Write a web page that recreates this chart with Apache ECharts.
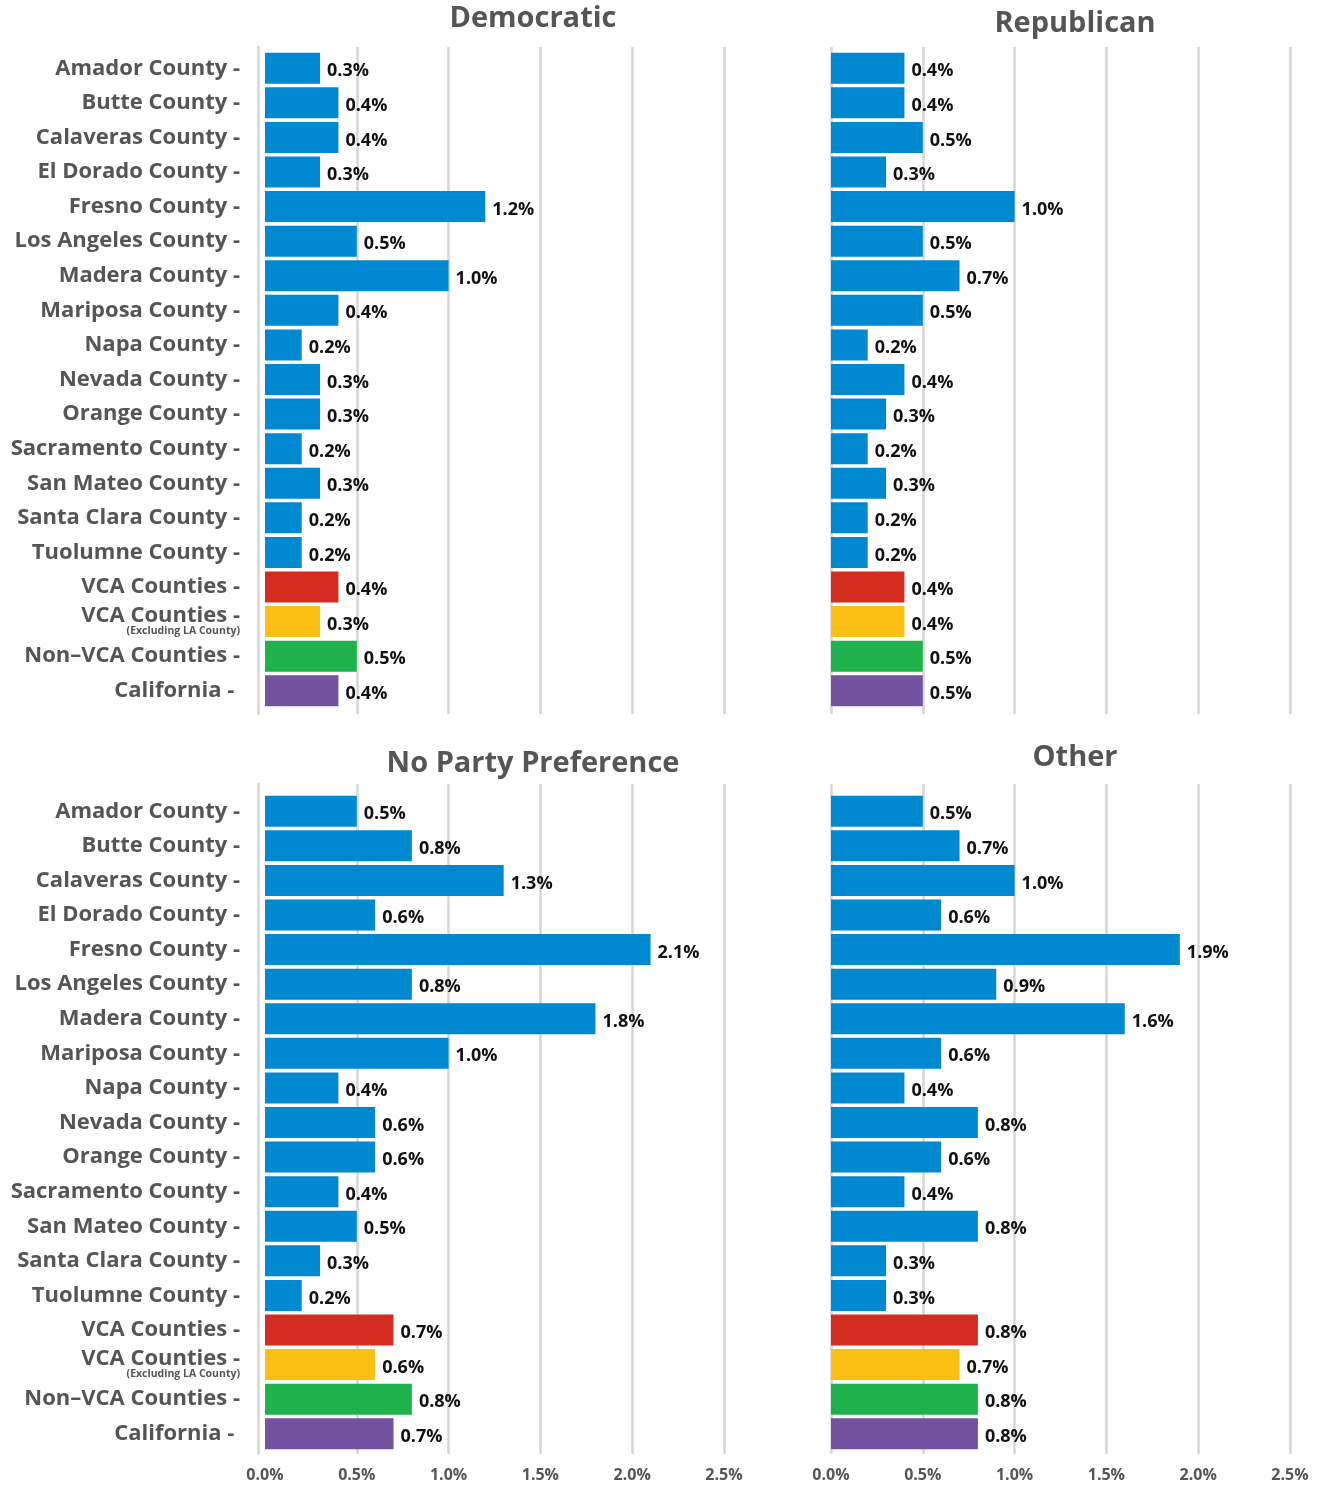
<!DOCTYPE html>
<html>
<head>
<meta charset="utf-8">
<script src="https://cdn.jsdelivr.net/npm/echarts@6/dist/echarts.min.js"></script>
<style>
html,body{margin:0;padding:0;background:#fff;}
#chart{width:1320px;height:1487px;}
</style>
</head>
<body>
<div id="chart"></div>
<script>
const categories = ["Amador County","Butte County","Calaveras County","El Dorado County","Fresno County","Los Angeles County","Madera County","Mariposa County","Napa County","Nevada County","Orange County","Sacramento County","San Mateo County","Santa Clara County","Tuolumne County","VCA Counties","VCA Counties (Excluding LA County)","Non\u2013VCA Counties","California"];
const panelTitles = ["Democratic","Republican","No Party Preference","Other"];
const democratic = [0.3,0.4,0.4,0.3,1.2,0.5,1.0,0.4,0.2,0.3,0.3,0.2,0.3,0.2,0.2,0.4,0.3,0.5,0.4];
const republican = [0.4,0.4,0.5,0.3,1.0,0.5,0.7,0.5,0.2,0.4,0.3,0.2,0.3,0.2,0.2,0.4,0.4,0.5,0.5];
const noParty    = [0.5,0.8,1.3,0.6,2.1,0.8,1.8,1.0,0.4,0.6,0.6,0.4,0.5,0.3,0.2,0.7,0.6,0.8,0.7];
const other      = [0.5,0.7,1.0,0.6,1.9,0.9,1.6,0.6,0.4,0.8,0.6,0.4,0.8,0.3,0.3,0.8,0.7,0.8,0.8];
const xTicks = [0,0.5,1.0,1.5,2.0,2.5];
const rowColors = ["#0088d1","#0088d1","#0088d1","#0088d1","#0088d1","#0088d1","#0088d1","#0088d1","#0088d1","#0088d1","#0088d1","#0088d1","#0088d1","#0088d1","#0088d1","#d42c20","#fcc015","#1eb14c","#7352a0"];

const FONT = "'Open Sans', 'Noto Sans', sans-serif";
const GRAY = "#555555";
const GRID_COLOR = "#d6d6d6";

const panels = [
  {data: democratic, left: 265, top: 51, gTop: 47, gBot: 714, labels: true, bottomTicks: false, leftLine: true, title: panelTitles[0], tx: 533, ty: 19},
  {data: republican, left: 831, top: 51, gTop: 47, gBot: 714, labels: false, bottomTicks: false, leftLine: false, title: panelTitles[1], tx: 1075, ty: 24},
  {data: noParty, left: 265, top: 794, gTop: 784, gBot: 1454, labels: true, bottomTicks: true, leftLine: true, title: panelTitles[2], tx: 533, ty: 764},
  {data: other, left: 831, top: 794, gTop: 784, gBot: 1454, labels: false, bottomTicks: true, leftLine: false, title: panelTitles[3], tx: 1075, ty: 758}
];
const PLOT_W = 459, PLOT_H = 657;

const grids = [], xAxes = [], yAxes = [], series = [], graphics = [];
panels.forEach((p, i) => {
  // gridline grid
  const gi = grids.length;
  grids.push({left: p.left, top: p.gTop, width: PLOT_W, height: p.gBot - p.gTop, outerBoundsMode: 'none', containLabel: false});
  xAxes.push({
    type: 'value', gridIndex: gi, min: 0, max: xTicks[xTicks.length-1], interval: 0.5,
    axisLine: {show: false}, axisTick: {show: false},
    axisLabel: {show: p.bottomTicks, margin: 13, fontFamily: FONT, fontWeight: 'bold', fontSize: 16, color: GRAY,
      formatter: v => v.toFixed(1) + '%'},
    splitLine: {show: true, lineStyle: {width: 2.5, color: p.leftLine ? ['rgba(0,0,0,0)', GRID_COLOR, GRID_COLOR, GRID_COLOR, GRID_COLOR, GRID_COLOR] : GRID_COLOR}}
  });
  yAxes.push({
    type: 'value', gridIndex: gi, min: 0, max: 1, offset: 7,
    axisLine: {show: p.leftLine, onZero: false, lineStyle: {color: GRID_COLOR, width: 2.5}},
    axisTick: {show: false}, axisLabel: {show: false}, splitLine: {show: false}
  });
  // bar grid
  const bi = grids.length;
  grids.push({left: p.left, top: p.top, width: PLOT_W, height: PLOT_H, outerBoundsMode: 'none', containLabel: false});
  xAxes.push({type: 'value', gridIndex: bi, min: 0, max: xTicks[xTicks.length-1], interval: 0.5, show: false, splitLine: {show: false}});
  yAxes.push({
    type: 'category', gridIndex: bi, data: categories, inverse: true,
    axisLine: {show: false}, axisTick: {show: false}, splitLine: {show: false},
    axisLabel: {
      show: p.labels, margin: 25, fontFamily: FONT, fontWeight: 'bold', fontSize: 22, color: GRAY, align: 'right',
      formatter: v => {
        if (v === "VCA Counties (Excluding LA County)") return "{m|VCA Counties -}\n{s|(Excluding LA County)}";
        if (v === "California") return "{m|California - }";
        return "{m|" + v + " -}";
      },
      rich: {
        m: {fontFamily: FONT, fontWeight: 'bold', fontSize: 22, color: GRAY, lineHeight: 24, align: 'right'},
        s: {fontFamily: FONT, fontWeight: 'bold', fontSize: 10.5, color: GRAY, lineHeight: 12, align: 'right', padding: [2, 0, 8, 0]}
      }
    }
  });
  series.push({
    type: 'bar', xAxisIndex: xAxes.length-1, yAxisIndex: yAxes.length-1,
    barWidth: 31,
    data: p.data.map((v, k) => ({value: v, itemStyle: {color: rowColors[k]}})),
    label: {show: true, position: 'right', distance: 7, offset: [0, 3], fontFamily: FONT, fontWeight: 'bold', fontSize: 18, color: '#111',
      formatter: d => d.value.toFixed(1) + '%'},
    animation: false, silent: true
  });
  graphics.push({type: 'text', x: p.tx, y: p.ty, style: {text: p.title, fontFamily: FONT, fontWeight: 'bold', fontSize: 29, fill: GRAY, textAlign: 'center', textVerticalAlign: 'middle'}});
});

const chart = echarts.init(document.getElementById('chart'), null, {renderer: 'canvas'});
chart.setOption({
  animation: false,
  backgroundColor: '#ffffff',
  grid: grids, xAxis: xAxes, yAxis: yAxes, series: series, graphic: graphics
});
</script>
</body>
</html>
